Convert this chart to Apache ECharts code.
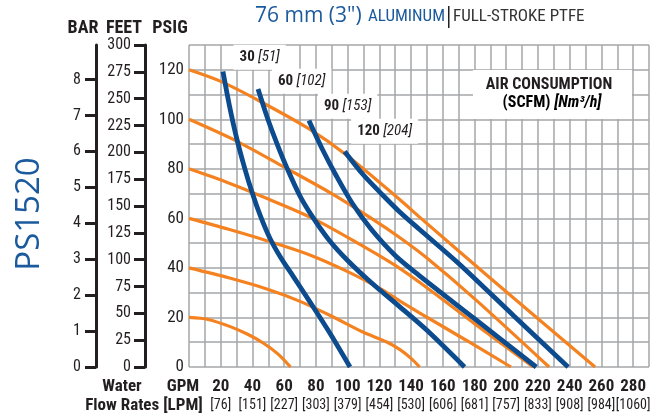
<!DOCTYPE html>
<html><head><meta charset="utf-8">
<script src="https://cdn.jsdelivr.net/npm/echarts@6/dist/echarts.min.js"></script>
<style>html,body{margin:0;padding:0;background:#fff}#c{width:663px;height:420px}</style>
</head><body><div id="c"></div>
<script>
// ---- tick labels ----
const gpmLabels = [20,40,60,80,100,120,140,160,180,200,220,240,260,280];
const lpmLabels = [76,151,227,303,379,454,530,606,681,757,833,908,984,1060];
const psigLabels = [0,20,40,60,80,100,120];
const feetLabels = [0,25,50,75,100,125,150,175,200,225,250,275,300];
const barLabels = [0,1,2,3,4,5,6,7,8];

// ---- inlet air pressure curves (orange) [GPM, PSIG] ----
const inlet20  = [[0,20],[12,19.2],[26,16.3],[37,13.2],[47,9.6],[56,5.3],[64,0]];
const inlet40  = [[0,40],[25,36],[50,31.3],[70,26.5],[90,20.5],[110,14],[125,10],[133,7],[140,3.5],[145.4,0]];
const inlet60  = [[0,60],[25,55.6],[51,50.6],[75,45.5],[100,38.5],[120,31.8],[133,26.6],[145,22],[175,10.7],[203,0]];
const inlet80  = [[0,80],[25,74.3],[50,67.8],[78,60],[105,50.5],[130,41],[150,32],[180,17.5],[217,0]];
const inlet100 = [[0,100],[30,91.2],[60,80.7],[90,70],[115,60],[133,52.2],[150,44],[181,27],[227,0]];
const inlet120 = [[0,120],[20,115.3],[45,107.2],[75,96.4],[99,85.7],[133,67.5],[145,60.7],[190,35.8],[256,0]];

// ---- air consumption curves (blue) [GPM, PSIG] ----
const air30  = [[21.4,119.3],[25.5,105.5],[30,92.5],[35,80.5],[40,70],[45,61],[51,52],[58,44],[66,36.3],[75,27.5],[88,14.5],[101.5,0]];
const air60  = [[43.5,112.2],[50,99.5],[56,89.3],[62,80],[70,69],[78,60.5],[88,51.5],[100,43],[115,34],[132.7,24.4],[150,14.8],[173.7,0]];
const air90  = [[75.6,99.5],[84,88],[93,77],[103,66],[115,55.5],[130,45],[145,37],[180,19.5],[218.9,0]];
const air120 = [[98.1,87],[110,77.5],[122,69.5],[132.7,62.7],[145.4,55.5],[170,41.8],[205,20.5],[239,0]];
const airScfm = ['30','60','90','120'];
const airNm3  = ['51','102','153','204'];

const NARROW = '"Liberation Sans Narrow","Arial Narrow","Roboto Condensed","DejaVu Sans Condensed",Roboto,sans-serif';
const SANS = '"Open Sans","Noto Sans",sans-serif';
const ORANGE = '#F58220';
const BLUE = '#0C4B8E';
const GRIDC = '#A3A6A9';
const INK = '#231F20';
const TITLEBLUE = '#1B5A9C';

const chart = echarts.init(document.getElementById('c'), null, {renderer:'canvas'});

const orangeSets = [inlet20, inlet40, inlet60, inlet80, inlet100, inlet120];
const blueSets = [air30, air60, air90, air120];
const labelOffsets = [[36.7,-14.2],[43.7,-7.8],[38.7,-14.2],[40,-20.2]];

const series = [];
orangeSets.forEach((d, i) => {
  series.push({type:'line', name:'inlet'+i, data:d, showSymbol:false, symbol:'none', smooth:0.3,
    lineStyle:{color:ORANGE, width:3.2, cap:'butt'}, z:2, silent:true, animation:false});
});
blueSets.forEach((d, i) => {
  series.push({type:'line', name:'air'+airScfm[i], data:d, showSymbol:false, symbol:'none', smooth:0.3,
    lineStyle:{color:BLUE, width:4.8, cap:'butt'}, z:3, silent:true, animation:false,
    markPoint:{symbol:'circle', symbolSize:1, itemStyle:{color:'rgba(0,0,0,0)'}, silent:true, animation:false,
      data:[{coord:d[0],
        label:{show:true, position:'inside', offset:labelOffsets[i],
          formatter:'{b|' + airScfm[i] + '} {i|[' + airNm3[i] + ']}',
          backgroundColor:'#fff', padding:[5,6,5,6],
          rich:{b:{fontFamily:NARROW, fontWeight:'bold', fontSize:15, color:INK},
                i:{fontFamily:NARROW, fontStyle:'italic', fontSize:15, color:INK}}}}]}
  });
});

const option = {
  backgroundColor:'#fff',
  animation:false,
  grid:{left:189, top:45, width:460, height:322, containLabel:false},
  xAxis:{type:'value', min:0, max:290, interval:10,
    axisLine:{show:false}, axisTick:{show:false},
    splitLine:{show:true, lineStyle:{color:GRIDC, width:1.5}},
    axisLabel:{customValues:gpmLabels, margin:10, hideOverlap:false,
      formatter:(v)=>'{g|' + v + '}\n{l|[' + lpmLabels[gpmLabels.indexOf(v)] + ']}',
      rich:{g:{fontFamily:NARROW, fontWeight:'bold', fontSize:17, color:INK, lineHeight:19},
            l:{fontFamily:NARROW, fontSize:14, color:INK, lineHeight:19}}}},
  yAxis:[
    {type:'value', min:0, max:130, interval:10, position:'left',
      axisLine:{show:false}, axisTick:{show:false},
      splitLine:{show:true, lineStyle:{color:GRIDC, width:1.5}},
      axisLabel:{customValues:psigLabels, margin:5, fontFamily:NARROW, fontSize:17, color:INK, padding:[4,0,0,0]}},
    {type:'value', min:0, max:300, interval:25, position:'left', offset:44,
      axisLine:{show:true, lineStyle:{color:INK, width:3}},
      axisTick:{show:true, length:11, lineStyle:{color:INK, width:3}},
      splitLine:{show:false},
      axisLabel:{customValues:feetLabels, margin:14, fontFamily:NARROW, fontSize:16, color:INK, padding:[4,0,0,0]}},
    {type:'value', min:0, max:130/14.5038, position:'left', offset:93,
      axisLine:{show:true, lineStyle:{color:INK, width:3}},
      axisTick:{show:true, customValues:barLabels, length:11, lineStyle:{color:INK, width:3}},
      splitLine:{show:false},
      axisLabel:{customValues:barLabels, margin:15, fontFamily:NARROW, fontSize:16, color:INK, padding:[4,0,0,0]}}
  ],
  graphic:[
    {type:'text', x:255, y:16, z:100, style:{text:'76 mm (3")', fontFamily:SANS, fontSize:21, fill:TITLEBLUE, verticalAlign:'middle', align:'left'}},
    {type:'text', x:368, y:17, z:100, style:{text:'ALUMINUM', fontFamily:NARROW, fontSize:17, fill:TITLEBLUE, verticalAlign:'middle', align:'left'}},
    {type:'rect', z:100, shape:{x:448, y:6, width:1.5, height:22}, style:{fill:INK}},
    {type:'text', x:453, y:17, z:100, style:{text:'FULL-STROKE PTFE', fontFamily:NARROW, fontSize:17, fill:'#333', verticalAlign:'middle', align:'left'}},
    {type:'text', x:30, y:214, rotation:Math.PI/2, z:100, style:{text:'PS1520', fontFamily:SANS, fontSize:33, fill:TITLEBLUE, align:'center', verticalAlign:'middle'}},
    {type:'text', x:83, y:28, z:100, style:{text:'BAR', fontFamily:NARROW, fontWeight:'bold', fontSize:18, fill:INK, align:'center', verticalAlign:'middle'}},
    {type:'text', x:124, y:28, z:100, style:{text:'FEET', fontFamily:NARROW, fontWeight:'bold', fontSize:18, fill:INK, align:'center', verticalAlign:'middle'}},
    {type:'text', x:170, y:28, z:100, style:{text:'PSIG', fontFamily:NARROW, fontWeight:'bold', fontSize:18, fill:INK, align:'center', verticalAlign:'middle'}},
    {type:'text', x:122, y:387, z:100, style:{text:'Water', fontFamily:NARROW, fontWeight:'bold', fontSize:17, fill:INK, align:'center', verticalAlign:'middle'}},
    {type:'text', x:183, y:387, z:100, style:{text:'GPM', fontFamily:NARROW, fontWeight:'bold', fontSize:17, fill:INK, align:'center', verticalAlign:'middle'}},
    {type:'text', x:144, y:406, z:100, style:{text:'Flow Rates [LPM]', fontFamily:NARROW, fontWeight:'bold', fontSize:17, fill:INK, align:'center', verticalAlign:'middle'}},
    {type:'rect', z:100, shape:{x:473, y:70, width:159, height:49}, style:{fill:'#fff'}},
    {type:'text', x:549, y:85, z:101, style:{text:'AIR CONSUMPTION', fontFamily:NARROW, fontWeight:'bold', fontSize:16, fill:INK, align:'center', verticalAlign:'middle'}},
    {type:'text', x:552, y:103, z:101, style:{text:'{a|(SCFM) }{b|[Nm³/h]}', align:'center', verticalAlign:'middle',
      rich:{a:{fontFamily:NARROW, fontWeight:'bold', fontSize:16, color:INK},
            b:{fontFamily:NARROW, fontWeight:'bold', fontStyle:'italic', fontSize:16, color:INK}}}}
  ],
  series: series
};
chart.setOption(option);
</script>
</body></html>
